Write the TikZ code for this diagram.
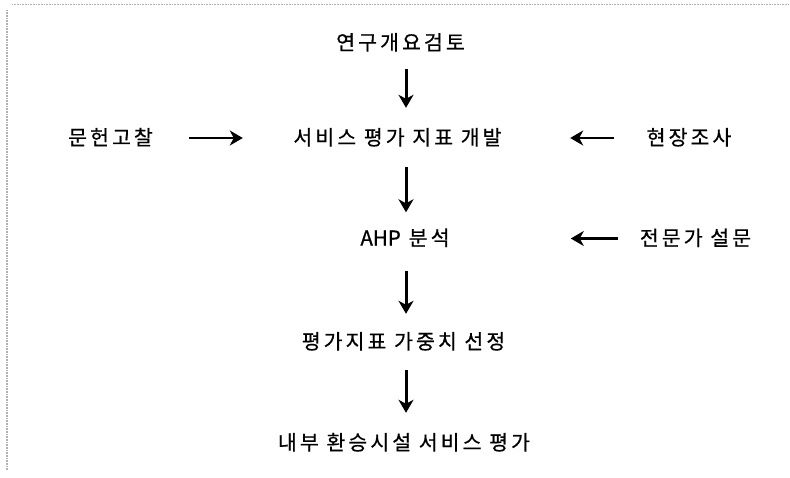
\documentclass[tikz,border=0pt]{standalone}
\usepackage{fontspec}
\newfontfamily\krfont{Noto Sans CJK KR}[LetterSpace=15,FakeBold=0.6]
\newfontfamily\latfont{Noto Sans CJK KR}[FakeBold=0.6]
\usetikzlibrary{arrows.meta}
\tikzset{
  lbl/.style={font=\krfont\fontsize{20.5}{24}\selectfont, inner sep=0pt, text height=16pt, text depth=2pt, align=center},
  varr/.style={line width=3pt, -{Stealth[length=13pt,width=15pt,inset=4pt]}},
  harr/.style={line width=2.8pt, -{Stealth[length=13pt,width=15pt,inset=4pt]}},
  frame/.style={gray!60, line width=1.2pt, dash pattern=on 1pt off 0.6pt}
}
\begin{document}
\begin{tikzpicture}[x=1pt,y=-1pt]
\useasboundingbox (0,0) rectangle (790,477);
\fill[white] (0,0) rectangle (790,477);
\draw[frame] (12,4.5) -- (790,4.5);
\draw[frame] (7,10) -- (7,470);

\node[lbl, minimum width=135pt] (n1) at (400.5,43) {연구개요검토};
\node[lbl, minimum width=85pt] (lit) at (110.5,138) {문헌고찰};
\node[lbl, minimum width=221pt] (n2) at (397.5,138) {서비스 평가 지표 개발};
\node[lbl, minimum width=78pt] (field) at (689,138) {현장조사};
\node[lbl, minimum width=89pt] (n3) at (405,238.5) {{\latfont AHP}\hspace{8pt}분석};
\node[lbl, minimum width=115pt] (expert) at (695.5,238.5) {전문가 설문};
\node[lbl, minimum width=207pt] (n4) at (403.5,342) {평가지표 가중치 선정};
\node[lbl, minimum width=258pt] (n5) at (404,443) {내부 환승시설 서비스 평가};

\coordinate (ax) at (406,0);

\draw[varr, shorten <=17pt, shorten >=21pt] (n1.south -| ax) -- (n2.north -| ax);
\draw[varr, shorten <=20pt, shorten >=17pt] (n2.south -| ax) -- (n3.north -| ax);
\draw[varr, shorten <=23pt, shorten >=19pt] (n3.south -| ax) -- (n4.north -| ax);
\draw[varr, shorten <=19pt, shorten >=21pt] (n4.south -| ax) -- (n5.north -| ax);

\draw[harr, shorten <=36pt, shorten >=44pt] (lit.east) -- (n2.west);
\draw[harr, shorten <=32pt, shorten >=62pt] (field.west) -- (n2.east);
\draw[harr, shorten <=20pt, shorten >=121pt] (expert.west) -- (n3.east);
\end{tikzpicture}
\end{document}
